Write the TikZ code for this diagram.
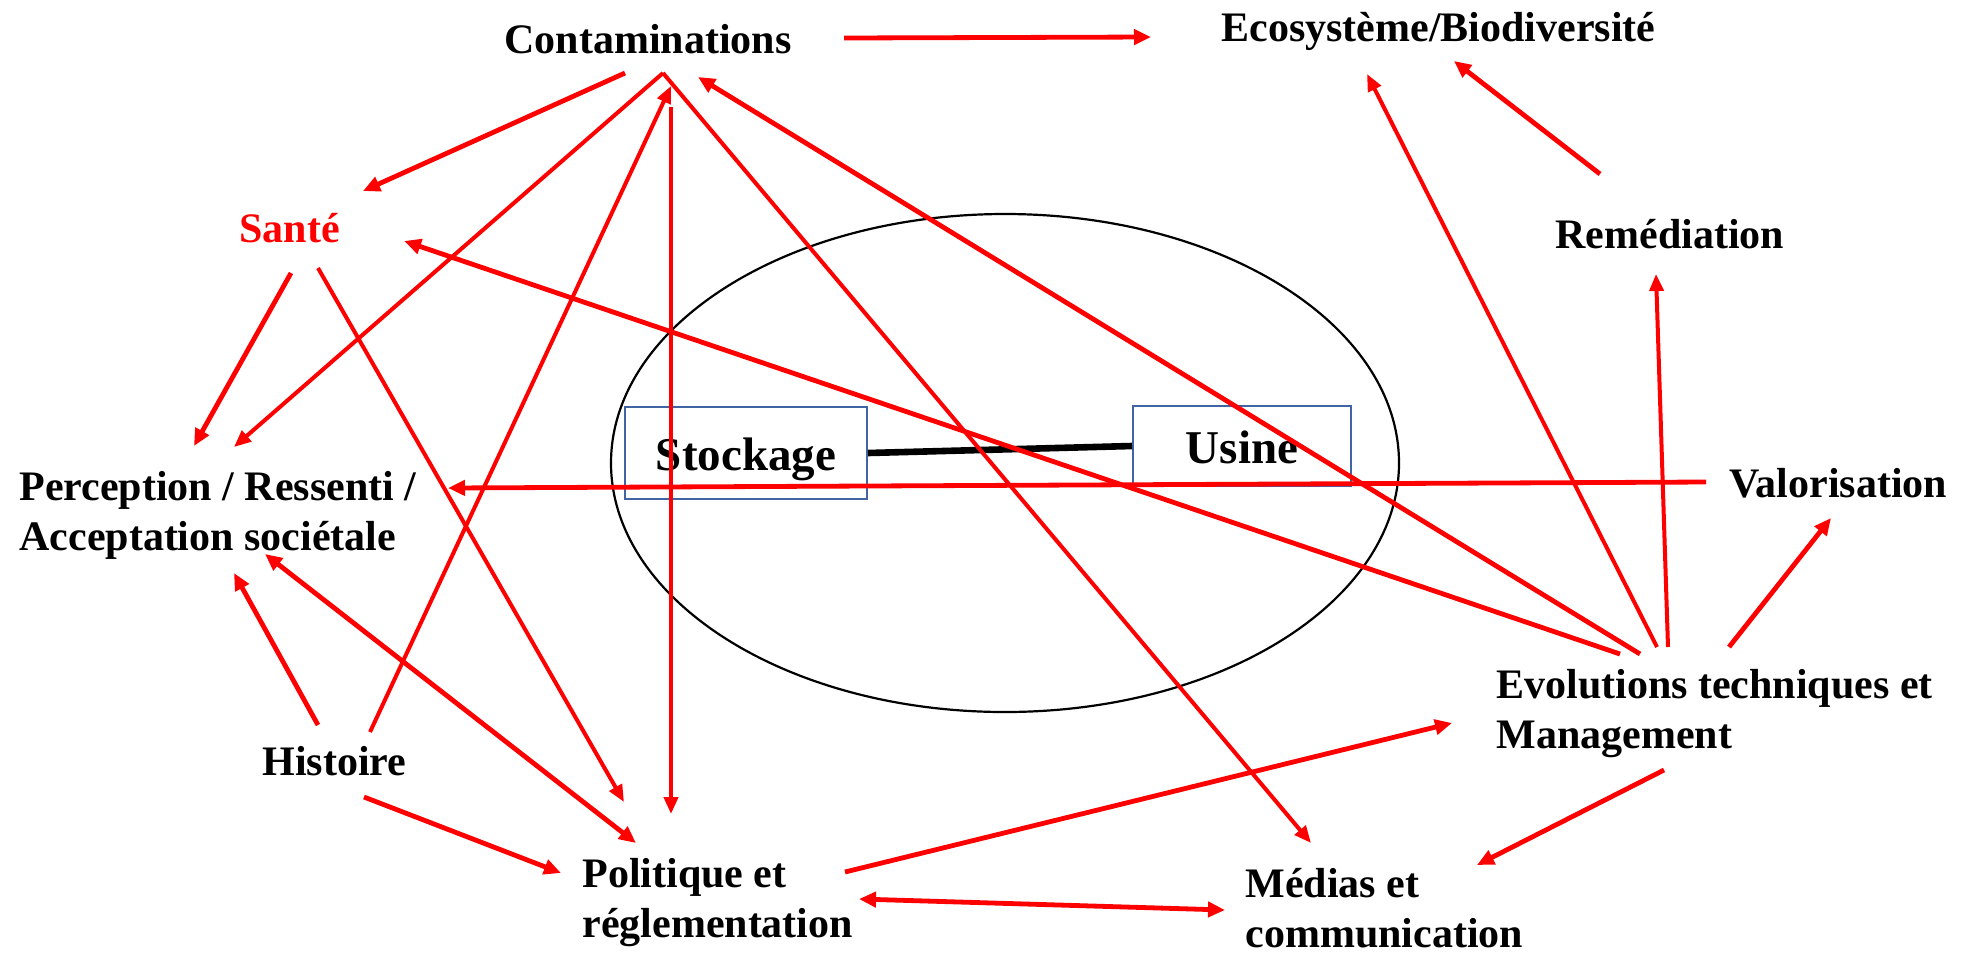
\documentclass[tikz,border=0pt]{standalone}
\usepackage{fontspec}
\setmainfont{Liberation Serif}
\usetikzlibrary{arrows.meta}
\definecolor{boxblue}{RGB}{65,100,165}
\newcommand{\twoline}[2]{\vtop{\hbox{#1}\hbox{#2}}}
\begin{document}
\begin{tikzpicture}[x=0.5pt, y=-0.5pt,
  lbl/.style={anchor=base west, inner sep=0pt, font=\fontsize{21}{25}\selectfont\bfseries},
  boxnode/.style={draw=boxblue, line width=1pt, anchor=base, inner sep=0pt, font=\fontsize{23.5}{28}\selectfont\bfseries},
  thk/.style={draw=red, line width=2.4pt, -{Triangle[length=8.5pt,width=7.5pt]}},
  thn/.style={draw=red, line width=2pt, -{Triangle[length=8.5pt,width=7pt]}},
  thkboth/.style={draw=red, line width=2.4pt, {Triangle[length=8.5pt,width=7.5pt]}-{Triangle[length=8.5pt,width=7.5pt]}},
]
\useasboundingbox (0,0) rectangle (1965,955);

% central zone
\draw[line width=1.1pt] (1005,463) ellipse [x radius=197pt, y radius=124.5pt];
\node[boxnode, text height=31.5pt, text depth=14.5pt, minimum width=121pt] (stock) at (746,470) {Stockage};
\node[boxnode, text height=28.5pt, text depth=11.5pt, minimum width=109pt] (usine) at (1242,463) {Usine};
\draw[line width=3.3pt] (stock.east) -- (usine.west);

% labels
\node[lbl] (contam) at (504,53) {Contaminations};
\node[lbl] (eco) at (1221,41) {Ecosystème/Biodiversité};
\node[lbl, text=red] (sante) at (239,242) {Santé};
\node[lbl] (remed) at (1555,248) {Remédiation};
\node[lbl] (perc) at (19,500) {\twoline{Perception / Ressenti /}{Acceptation sociétale}};
\node[lbl] (valor) at (1729,497) {Valorisation};
\node[lbl] (evol) at (1496,698) {\twoline{Evolutions techniques et}{Management}};
\node[lbl] (hist) at (262,775) {Histoire};
\node[lbl] (polit) at (582,887) {\twoline{Politique et}{réglementation}};
\node[lbl] (medias) at (1245,897) {\twoline{Médias et}{communication}};

% connector end points
\coordinate (contamE) at (844,38);
\coordinate (ecoW) at (1151,37);
\coordinate (contamSW) at (625,73);
\coordinate (contamApex) at (663,73);
\coordinate (contamIn) at (671,86);
\coordinate (contamV) at (671,107);
\coordinate (contamSE) at (698,77);
\coordinate (santeNE) at (363,191);
\coordinate (santeE) at (404,241);
\coordinate (santeS1) at (291,273);
\coordinate (santeS2) at (318,268);
\coordinate (percN1) at (194,446);
\coordinate (percN2) at (234,447);
\coordinate (percE) at (448,488);
\coordinate (percS1) at (234,573);
\coordinate (percS2) at (265,554);
\coordinate (histN1) at (318,725);
\coordinate (histN2) at (370,732);
\coordinate (histSE) at (364,797);
\coordinate (politN1) at (624,802);
\coordinate (politN2) at (671,814);
\coordinate (politNW) at (636,843);
\coordinate (politW) at (561,873);
\coordinate (politNE) at (845,872);
\coordinate (politE) at (859,899);
\coordinate (mediasW) at (1225,910);
\coordinate (mediasN) at (1311,843);
\coordinate (mediasNE) at (1477,865);
\coordinate (evolW) at (1452,723);
\coordinate (evolS) at (1664,770);
\coordinate (evolN1) at (1620,654);
\coordinate (evolN2) at (1640,654);
\coordinate (evolN3) at (1657,647);
\coordinate (evolN4) at (1668,647);
\coordinate (evolN5) at (1729,647);
\coordinate (valorW) at (1706,482);
\coordinate (valorS) at (1831,518);
\coordinate (remedS) at (1656,274);
\coordinate (remedN) at (1600,174);
\coordinate (ecoS1) at (1367,74);
\coordinate (ecoS2) at (1454,61);

% connectors
\draw[thk] (contamE) -- (ecoW);
\draw[thk] (contamSW) -- (santeNE);
\draw[thn] (contamApex) -- (percN2);
\draw[thn] (histN2) -- (contamIn);
\draw[thn] (contamV) -- (politN2);
\draw[thn] (contamApex) -- (mediasN);
\draw[thk] (evolN2) -- (contamSE);
\draw[thk] (evolN1) -- (santeE);
\draw[thk] (santeS1) -- (percN1);
\draw[thn] (santeS2) -- (politN1);
\draw[thk] (valorW) -- (percE);
\draw[thkboth] (percS2) -- (politNW);
\draw[thk] (histN1) -- (percS1);
\draw[thk] (histSE) -- (politW);
\draw[thk] (politNE) -- (evolW);
\draw[thkboth] (politE) -- (mediasW);
\draw[thk] (evolS) -- (mediasNE);
\draw[thk] (evolN5) -- (valorS);
\draw[thn] (evolN4) -- (remedS);
\draw[thn] (evolN3) -- (ecoS1);
\draw[thk] (remedN) -- (ecoS2);
\end{tikzpicture}
\end{document}
